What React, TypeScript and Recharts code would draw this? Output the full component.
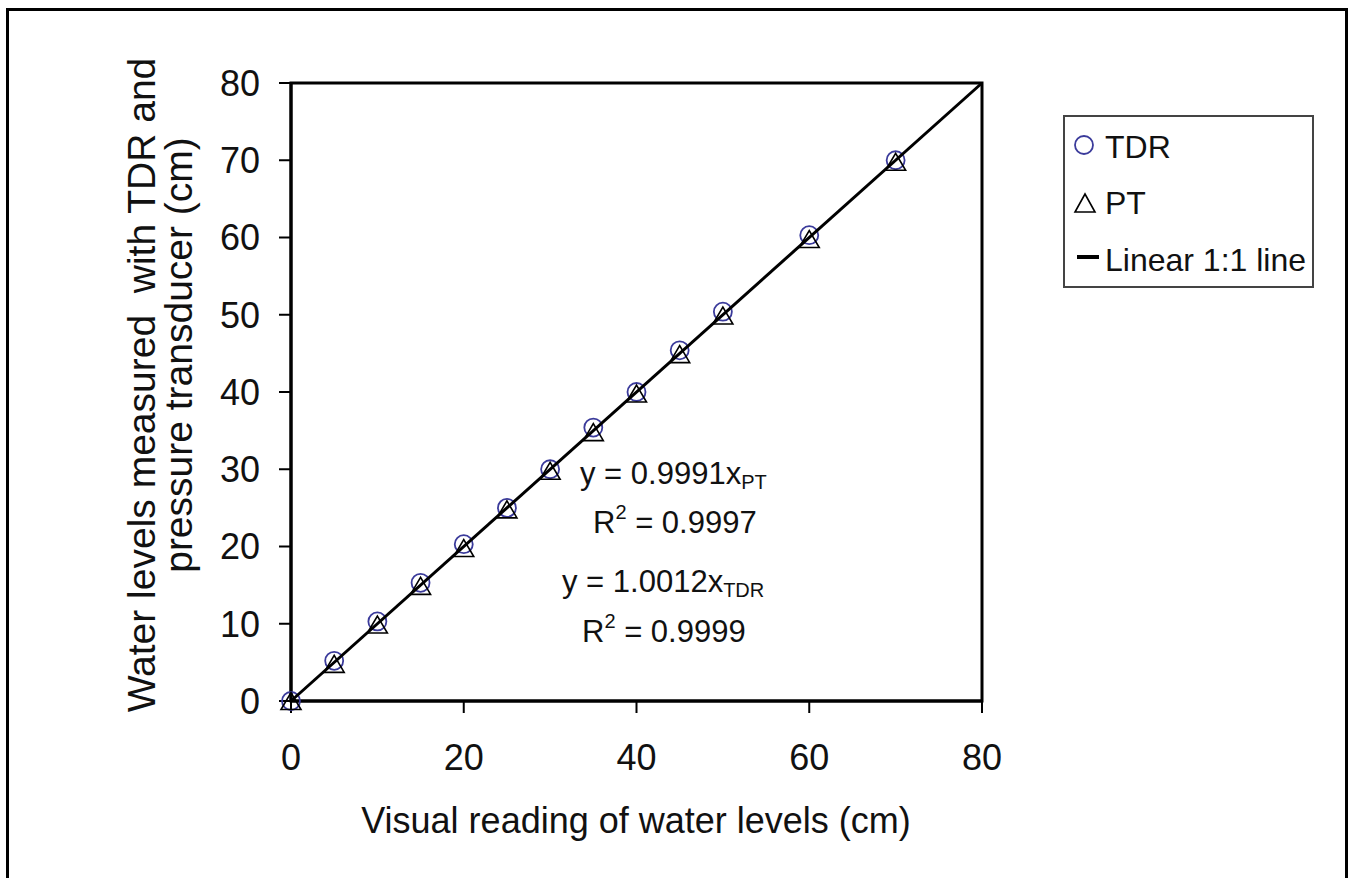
import React from "react";
import { ScatterChart, Scatter, XAxis, YAxis, ReferenceArea } from "recharts";

// visual reading (cm)
const VISUAL = [0, 5, 10, 15, 20, 25, 30, 35, 40, 45, 50, 60, 70];
// TDR readings (cm)
const TDR = [0, 5.2, 10.3, 15.3, 20.3, 25.0, 30.0, 35.4, 40.0, 45.4, 50.4, 60.3, 70.0];
// pressure transducer readings (cm)
const PT = [0, 4.8, 9.9, 14.9, 19.8, 24.8, 29.8, 34.8, 39.8, 44.9, 49.9, 59.8, 69.8];
const ONE_TO_ONE = [0, 80];
const X_TICKS = [0, 20, 40, 60, 80];
const Y_TICKS = [0, 10, 20, 30, 40, 50, 60, 70, 80];

const tdrData = VISUAL.map((x, i) => ({ x, y: TDR[i] }));
const ptData = VISUAL.map((x, i) => ({ x, y: PT[i] }));
const lineData = ONE_TO_ONE.map((v) => ({ x: v, y: v }));

const FONT = "'Liberation Sans', Arial, sans-serif";
const INK = "#111";
const CIRCLE = "#3b3b9b";

const Circle = (p: any) => (
    <circle cx={p.cx} cy={p.cy} r={9} fill="none" stroke={CIRCLE} strokeWidth={1.8} />
);
const Triangle = (p: any) => (
    <polygon
        points={`${p.cx - 10},${p.cy + 8.5} ${p.cx + 10},${p.cy + 8.5} ${p.cx},${p.cy - 8.5}`}
        fill="none"
        stroke="#000"
        strokeWidth={1.6}
    />
);

function ChartLegend() {
    const row = { position: "absolute" as const, left: 40, fontSize: 32, lineHeight: "32px", color: INK };
    return (
        <div style={{ position: "absolute", left: 1063, top: 115, width: 251, height: 173, boxSizing: "border-box", border: "2px solid #444", fontFamily: FONT, background: "#fff" }}>
            <svg width={40} height={173} style={{ position: "absolute", left: 0, top: 0 }}>
                <circle cx={19} cy={28} r={9} fill="none" stroke={CIRCLE} strokeWidth={1.8} />
                <polygon points="10,95 30,95 20,77" fill="none" stroke="#000" strokeWidth={1.6} />
                <line x1={12} x2={34} y1={140} y2={140} stroke="#000" strokeWidth={4} />
            </svg>
            <div style={{ ...row, top: 14 }}>TDR</div>
            <div style={{ ...row, top: 70 }}>PT</div>
            <div style={{ ...row, top: 127 }}>Linear 1:1 line</div>
        </div>
    );
}

export default function App() {
    return (
        <div style={{ position: "relative", width: 1349, height: 878, background: "#fff", overflow: "hidden" }}>
            <style>{"body{margin:0}"}</style>
            <ScatterChart width={1349} height={878} margin={{ top: 83, right: 367, bottom: 117, left: 191 }}>
                <XAxis
                    type="number"
                    dataKey="x"
                    domain={[0, 80]}
                    ticks={X_TICKS}
                    height={60}
                    tickSize={12}
                    tickMargin={31}
                    axisLine={{ stroke: "#000", strokeWidth: 3 }}
                    tickLine={{ stroke: "#000", strokeWidth: 2 }}
                    tick={{ fontSize: 36, fill: INK, fontFamily: FONT }}
                />
                <YAxis
                    type="number"
                    dataKey="y"
                    domain={[0, 80]}
                    ticks={Y_TICKS}
                    width={100}
                    tickSize={12}
                    tickMargin={19}
                    axisLine={{ stroke: "#000", strokeWidth: 3 }}
                    tickLine={{ stroke: "#000", strokeWidth: 2 }}
                    tick={{ fontSize: 36, fill: INK, fontFamily: FONT }}
                />
                <ReferenceArea x1={0} x2={80} y1={0} y2={80} fill="none" stroke="#000" strokeWidth={3} ifOverflow="visible" />
                <Scatter name="TDR" data={tdrData} shape={Circle} isAnimationActive={false} />
                <Scatter name="PT" data={ptData} shape={Triangle} isAnimationActive={false} />
                <Scatter
                    name="Linear 1:1 line"
                    data={lineData}
                    line={{ stroke: "#000", strokeWidth: 3 }}
                    shape={() => <g />}
                    isAnimationActive={false}
                />
            </ScatterChart>

            <svg width={1349} height={878} style={{ position: "absolute", left: 0, top: 0, pointerEvents: "none" }} fontFamily={FONT} fill={INK}>
                <text x={636} y={833} fontSize={36} textAnchor="middle">Visual reading of water levels (cm)</text>
                <text x={155} y={385} fontSize={39} textAnchor="middle" transform="rotate(-90 155 385)" style={{ whiteSpace: "pre" }}>
                    Water levels measured  with TDR and
                </text>
                <text x={192} y={355} fontSize={39} textAnchor="middle" transform="rotate(-90 192 355)">
                    pressure transducer (cm)
                </text>

                <text x={580} y={484} fontSize={31}>
                    y = 0.9991x<tspan fontSize={20} dy={5}>PT</tspan>
                </text>
                <text x={593} y={533} fontSize={31}>
                    R<tspan fontSize={20} dy={-14}>2</tspan><tspan dy={14}> = 0.9997</tspan>
                </text>
                <text x={562} y={592} fontSize={31}>
                    y = 1.0012x<tspan fontSize={20} dy={5}>TDR</tspan>
                </text>
                <text x={582} y={642} fontSize={31}>
                    R<tspan fontSize={20} dy={-14}>2</tspan><tspan dy={14}> = 0.9999</tspan>
                </text>
            </svg>

            <ChartLegend />

            <div style={{ position: "absolute", left: 6, top: 8, width: 1342, height: 890, boxSizing: "border-box", border: "3px solid #000", pointerEvents: "none" }} />
        </div>
    );
}
